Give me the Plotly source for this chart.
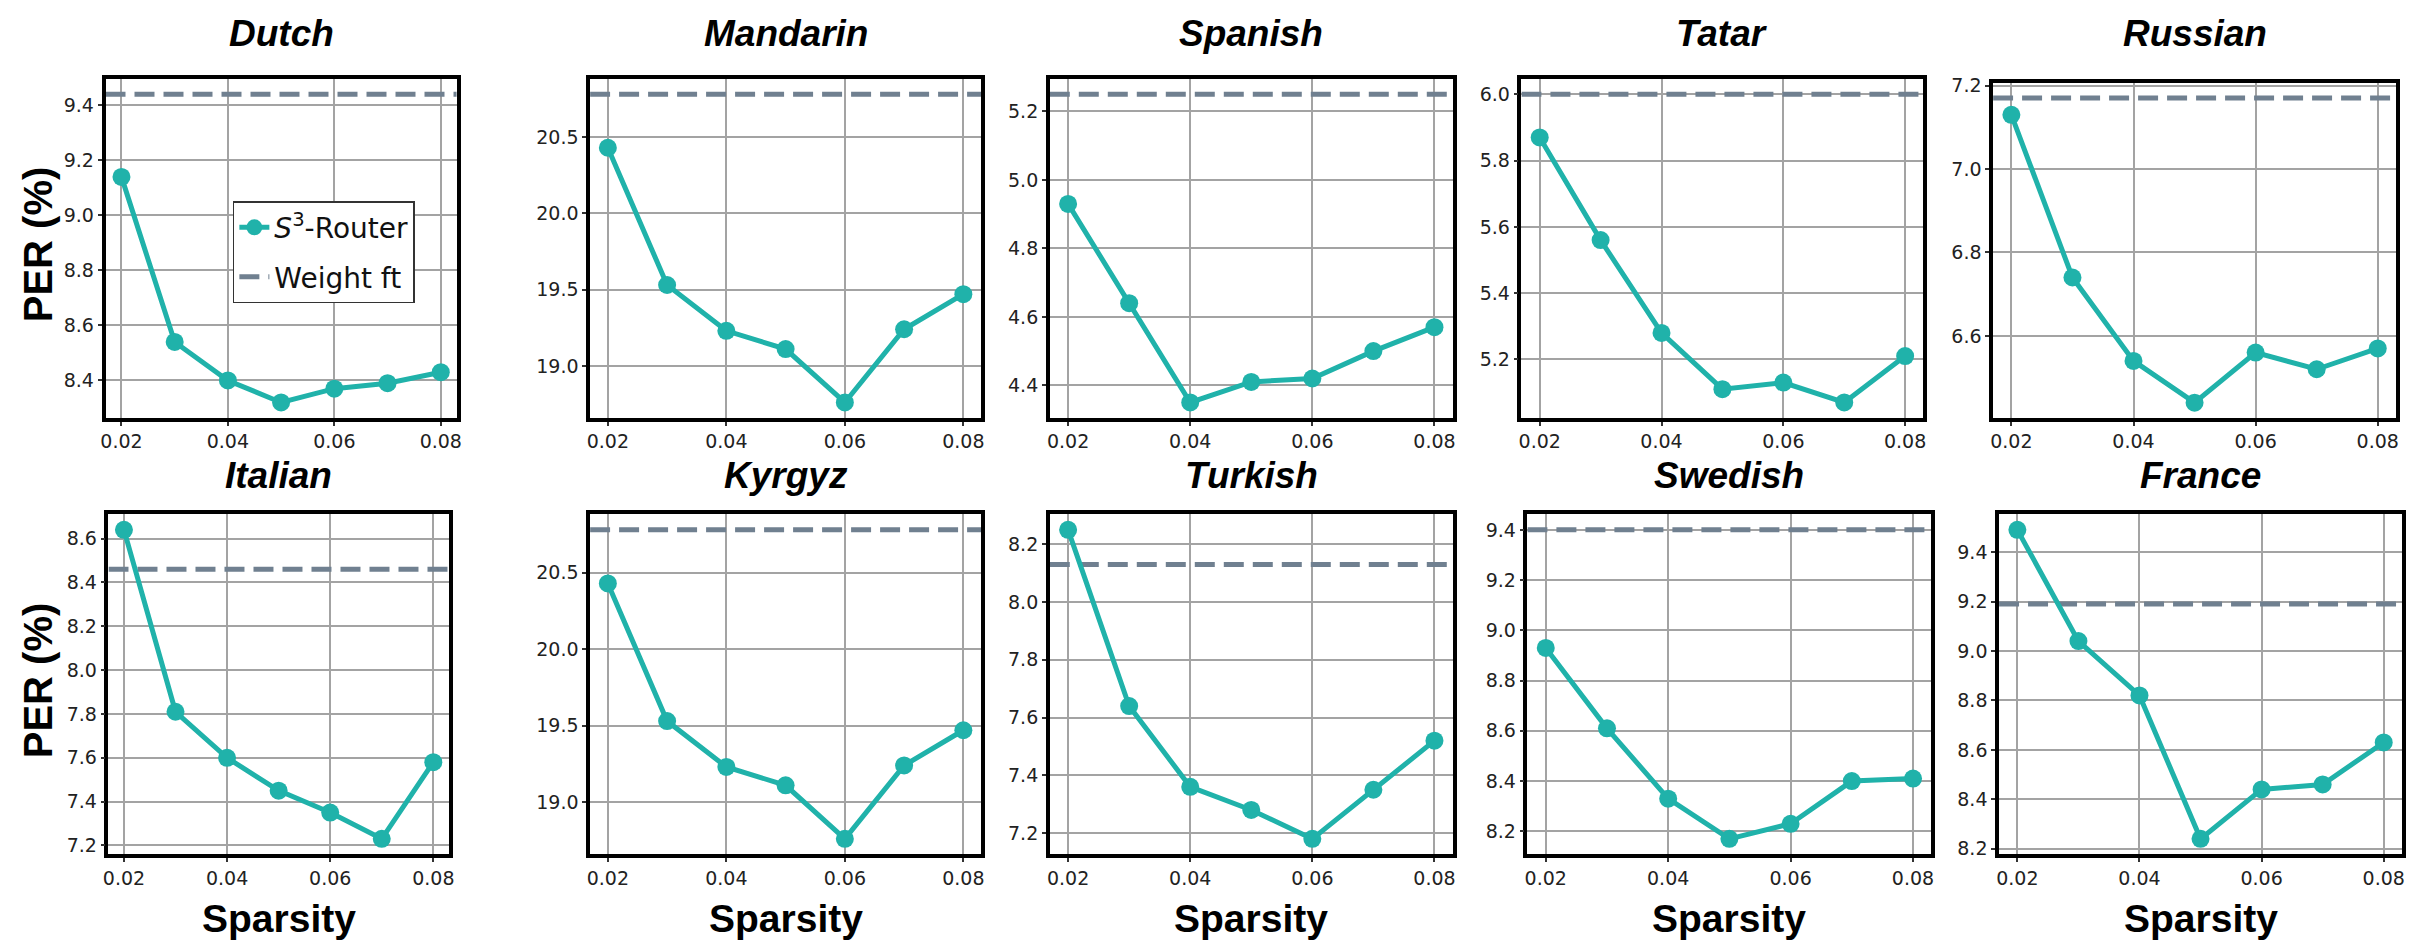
import plotly.graph_objects as go

# ---------------- data ----------------
sparsity = [0.02, 0.03, 0.04, 0.05, 0.06, 0.07, 0.08]
xtick_vals = [0.02, 0.04, 0.06, 0.08]
xtick_labels = ["0.02", "0.04", "0.06", "0.08"]

languages = ["Dutch", "Mandarin", "Spanish", "Tatar", "Russian",
             "Italian", "Kyrgyz", "Turkish", "Swedish", "France"]

per_dutch = [9.14, 8.54, 8.40, 8.32, 8.37, 8.39, 8.43]
per_mandarin = [20.43, 19.53, 19.23, 19.11, 18.76, 19.24, 19.47]
per_spanish = [4.93, 4.64, 4.35, 4.41, 4.42, 4.50, 4.57]
per_tatar = [5.87, 5.56, 5.28, 5.11, 5.13, 5.07, 5.21]
per_russian = [7.13, 6.74, 6.54, 6.44, 6.56, 6.52, 6.57]
per_italian = [8.64, 7.81, 7.60, 7.45, 7.35, 7.23, 7.58]
per_kyrgyz = [20.43, 19.53, 19.23, 19.11, 18.76, 19.24, 19.47]
per_turkish = [8.25, 7.64, 7.36, 7.28, 7.18, 7.35, 7.52]
per_swedish = [8.93, 8.61, 8.33, 8.17, 8.23, 8.40, 8.41]
per_france = [9.49, 9.04, 8.82, 8.24, 8.44, 8.46, 8.63]

weight_ft = [9.44, 20.78, 5.25, 6.00, 7.17, 8.46, 20.78, 8.13, 9.40, 9.19]
ytick_step = [0.2, 0.5, 0.2, 0.2, 0.2, 0.2, 0.5, 0.2, 0.2, 0.2]

series = [per_dutch, per_mandarin, per_spanish, per_tatar, per_russian,
          per_italian, per_kyrgyz, per_turkish, per_swedish, per_france]

# ---------------- layout geometry (pixels) ----------------
W, H = 2415, 946
boxes = [  # left, right, top, bottom
    (100, 453, 71, 415), (587, 980, 71, 415), (1049, 1454, 71, 415),
    (1523, 1927, 71, 415), (1997, 2402, 75, 415),
    (103, 445, 513, 858), (587, 980, 513, 858), (1049, 1454, 513, 858),
    (1529, 1935, 513, 858), (2003, 2408, 513, 858),
]

TEAL = "#20B2AA"
SLATE = "#708090"
tick_font = dict(family="DejaVu Sans", size=19, color="#222222")
bold_font = "Liberation Sans, Arial, sans-serif"

fig = go.Figure()
annotations = []
layout_axes = {}

xmin_d, xmax_d = min(sparsity), max(sparsity)
xpad = 0.05 * (xmax_d - xmin_d)
xr = [xmin_d - xpad, xmax_d + xpad]

for i, (lang, vals, wf, step, box) in enumerate(
        zip(languages, series, weight_ft, ytick_step, boxes)):
    k = i + 1
    xs = "x" if k == 1 else f"x{k}"
    ys = "y" if k == 1 else f"y{k}"
    xa = "xaxis" if k == 1 else f"xaxis{k}"
    ya = "yaxis" if k == 1 else f"yaxis{k}"
    l, r, t, b = box

    lo = min(vals + [wf])
    hi = max(vals + [wf])
    pad = 0.05 * (hi - lo)
    yr = [lo - pad, hi + pad]

    fig.add_trace(go.Scatter(
        x=xr, y=[wf, wf], xaxis=xs, yaxis=ys, mode="lines",
        name="Weight ft", legendgroup="b", showlegend=(i == 0),
        legendrank=2,
        line=dict(color=SLATE, width=5, dash="20px,9px"),
    ))
    fig.add_trace(go.Scatter(
        x=sparsity, y=vals, xaxis=xs, yaxis=ys, mode="lines+markers",
        name="<i>S</i><sup>3</sup>-Router", legendgroup="a",
        showlegend=(i == 0), legendrank=1,
        line=dict(color=TEAL, width=5),
        marker=dict(color=TEAL, size=18),
    ))

    layout_axes[xa] = dict(
        domain=[l / W, r / W], anchor=ys, range=xr,
        tickvals=xtick_vals, ticktext=xtick_labels,
        showgrid=True, gridcolor="#a3a3a3", gridwidth=1.5,
        showline=True, linecolor="black", linewidth=3.5, mirror=True,
        ticks="outside", ticklen=4, tickwidth=1.5, tickcolor="#333333",
        tickfont=tick_font, zeroline=False,
    )
    layout_axes[ya] = dict(
        domain=[1 - b / H, 1 - t / H], anchor=xs, range=yr,
        dtick=step, tick0=0, tickformat=".1f",
        showgrid=True, gridcolor="#a3a3a3", gridwidth=1.5,
        showline=True, linecolor="black", linewidth=3.5, mirror=True,
        ticks="outside", ticklen=4, tickwidth=1.5, tickcolor="#333333",
        tickfont=tick_font, zeroline=False,
    )

    # panel title
    annotations.append(dict(
        text=lang, xref="paper", yref="paper",
        x=(l + r) / 2 / W, y=1 - (25 if i < 5 else 473) / H,
        xanchor="center", yanchor="middle", showarrow=False,
        font=dict(family=bold_font, size=37, color="black",
                  weight="bold", style="italic"),
    ))
    # x axis title on bottom row
    if i >= 5:
        annotations.append(dict(
            text="Sparsity", xref="paper", yref="paper",
            x=(l + r) / 2 / W, y=1 - 923 / H,
            xanchor="center", yanchor="middle", showarrow=False,
            font=dict(family=bold_font, size=39, color="black", weight="bold"),
        ))
    # y axis title on first column
    if i in (0, 5):
        annotations.append(dict(
            text="PER (%)", xref="paper", yref="paper",
            x=33 / W, y=1 - ((t + b) / 2 - 4) / H, textangle=-90,
            xanchor="center", yanchor="middle", showarrow=False,
            font=dict(family=bold_font, size=40, color="black", weight="bold"),
        ))

fig.update_layout(
    width=W, height=H,
    margin=dict(l=0, r=0, t=0, b=0),
    paper_bgcolor="white", plot_bgcolor="white",
    annotations=annotations,
    legend=dict(
        x=228 / W, y=1 - 195 / H, xanchor="left", yanchor="top",
        bgcolor="white", bordercolor="#333333", borderwidth=1.5,
        font=dict(family="DejaVu Sans", size=28, color="#111111"),
        traceorder="grouped", tracegroupgap=10,
    ),
    **layout_axes,
)

fig.write_html(
    "out.html",
    config={"displayModeBar": False},
    post_script="document.body.style.margin='0';"
                "document.body.style.overflow='hidden';",
)
